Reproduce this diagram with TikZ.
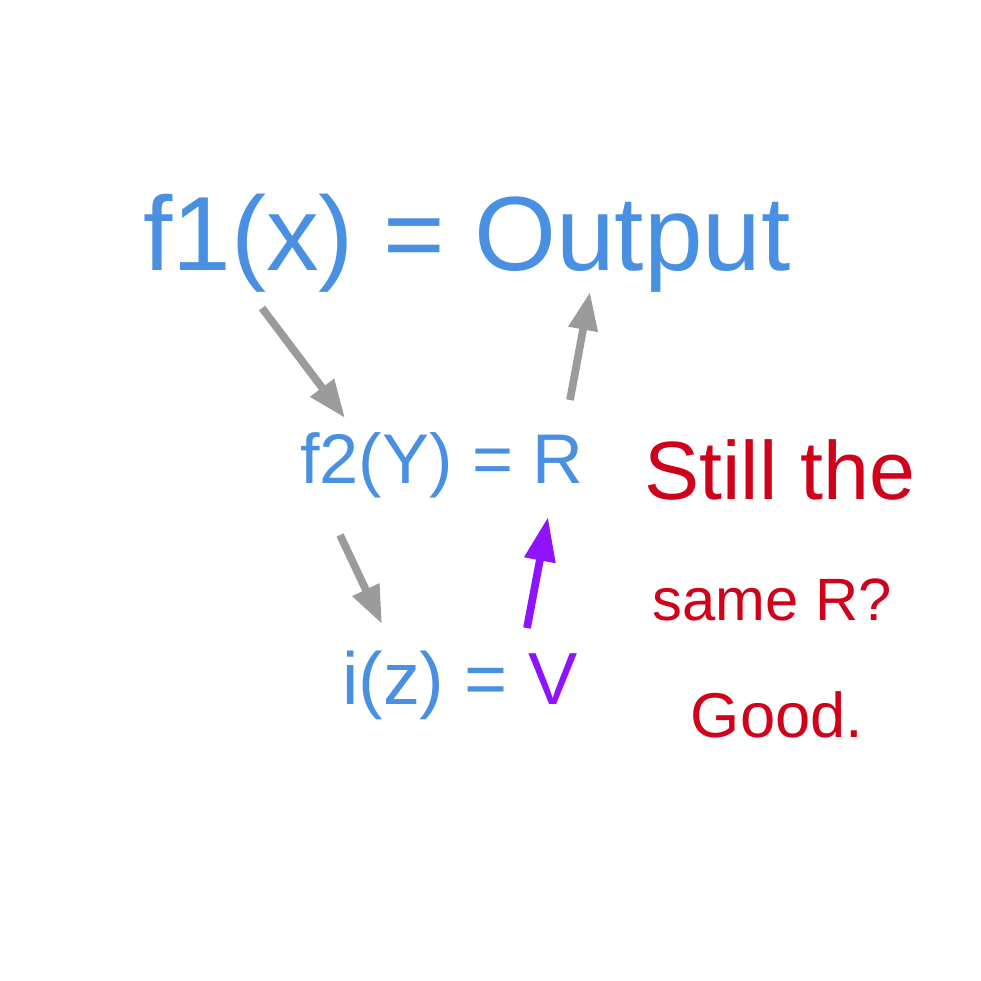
\documentclass[tikz,border=0pt]{standalone}
\usepackage{fontspec}
\setmainfont{Liberation Sans}
\usepackage{xcolor}
\usetikzlibrary{arrows.meta, positioning}

\definecolor{inkblue}{HTML}{4A90E2}
\definecolor{inkred}{HTML}{D0021B}
\definecolor{inkpurple}{HTML}{9013FE}
\definecolor{inkgray}{HTML}{9B9B9B}

\begin{document}
\begin{tikzpicture}[x=0.01cm, y=-0.01cm,
      eqn/.style={text=inkblue, inner sep=0pt},
      note/.style={text=inkred, inner sep=0pt},
      arr/.style={-{Triangle[length=3.8mm, width=2.8mm]}, line width=2.2pt, draw=inkgray},
      parr/.style={-{Triangle[length=4.4mm, width=3mm]}, line width=2.2pt, draw=inkpurple}
    ]
      \useasboundingbox (0,0) rectangle (981,981);
      % the three equations
      \node[eqn, font=\fontsize{30}{36}\selectfont] (f1) at (467,243) {f1(x) = Output};
      \node[eqn, font=\fontsize{20}{24}\selectfont] (f2) at (442,465) {f2(Y) = R};
      \node[eqn, font=\fontsize{21}{25}\selectfont] (iz) at (460,685) {i(z) = \textcolor{inkpurple}{V}};
      % the note on the right
      \node[note, font=\fontsize{23.5}{28}\selectfont] (still) at (780,470) {Still the};
      \node[note, font=\fontsize{17}{20}\selectfont]   (same)  at (772,600) {same R?};
      \node[note, font=\fontsize{18}{22}\selectfont]   (good)  at (777,715) {Good.};
      % arrow ends
      \coordinate (xout) at (262,308);
      \coordinate (f2in) at (345,418);
      \coordinate (rout) at (570,400);
      \coordinate (outin) at (590,292);
      \coordinate (f2out) at (340,535);
      \coordinate (izin) at (382,624);
      \coordinate (vout) at (527,628);
      \coordinate (rin) at (548,517);
      \draw[arr]  (xout)  -- (f2in);
      \draw[arr]  (rout)  -- (outin);
      \draw[arr]  (f2out) -- (izin);
      \draw[parr] (vout)  -- (rin);
    \end{tikzpicture}
\end{document}
